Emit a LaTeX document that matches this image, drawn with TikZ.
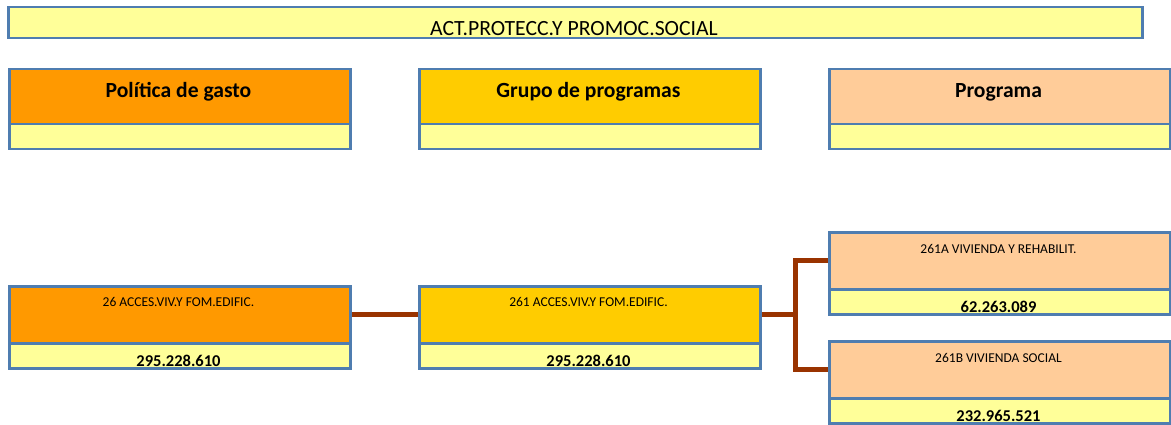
\documentclass[tikz,border=0pt]{standalone}
\usepackage{fontspec}
\setmainfont{Carlito}
\definecolor{bordc}{HTML}{4F7DB0}
\definecolor{orng}{HTML}{FF9900}
\definecolor{gold}{HTML}{FFCC00}
\definecolor{peach}{HTML}{FFCC99}
\definecolor{lyel}{HTML}{FFFF99}
\definecolor{connc}{HTML}{993300}
\begin{document}
\begin{tikzpicture}[x=1pt,y=-1pt,
  box/.style={draw=bordc, line width=2.5pt, inner sep=0pt, minimum width=341pt, anchor=north west},
  topbox/.style={box, minimum height=55pt},
  valbox/.style={box, fill=lyel, minimum height=25pt},
  head/.style={anchor=base, font=\fontsize{21.6}{23}\selectfont\bfseries},
  small/.style={anchor=base, font=\fontsize{13.5}{15}\selectfont},
  num/.style={anchor=base, font=\fontsize{16.5}{18}\selectfont\bfseries},
  conn/.style={draw=connc, line width=5pt}]
\useasboundingbox (0,0) rectangle (1171,425);
% title
\node[box, fill=lyel, minimum width=1134pt, minimum height=31pt] (title) at (7,6) {};
\node[anchor=base, font=\fontsize{21.7}{23}\selectfont] (titlet) at (574,36) {ACT.PROTECC.Y PROMOC.SOCIAL};
% headers
\node[topbox, fill=orng] (h1) at (8,68) {};
\node[valbox] (h1v) at (8,123) {};
\node[head] (h1t) at (178.5,98) {Política de gasto};
\node[topbox, fill=gold] (h2) at (418,68) {};
\node[valbox] (h2v) at (418,123) {};
\node[head] (h2t) at (588.5,98) {Grupo de programas};
\node[topbox, fill=peach] (h3) at (828,68) {};
\node[valbox] (h3v) at (828,123) {};
\node[head] (h3t) at (998.5,98) {Programa};
% politica
\node[topbox, fill=orng, minimum height=57pt] (p26) at (8,285) {};
\node[valbox] (p26v) at (8,342) {};
\node[small] (p26t) at (178.5,306.5) {26 ACCES.VIV.Y FOM.EDIFIC.};
\node[num] (p26n) at (178.5,366.5) {295.228.610};
% grupo
\node[topbox, fill=gold, minimum height=57pt] (g261) at (418,285) {};
\node[valbox] (g261v) at (418,342) {};
\node[small] (g261t) at (588.5,306.5) {261 ACCES.VIV.Y FOM.EDIFIC.};
\node[num] (g261n) at (588.5,366.5) {295.228.610};
% programa A
\node[topbox, fill=peach, minimum height=57pt] (pa) at (828,231) {};
\node[valbox] (pav) at (828,288) {};
\node[small] (pat) at (998.5,253) {261A VIVIENDA Y REHABILIT.};
\node[num] (pan) at (998.5,312) {62.263.089};
% programa B
\node[topbox, fill=peach, minimum height=57pt] (pb) at (828,340) {};
\node[valbox] (pbv) at (828,397) {};
\node[small] (pbt) at (998.5,362) {261B VIVIENDA SOCIAL};
\node[num] (pbn) at (998.5,421.5) {232.965.521};
% connectors
\draw[conn] (p26.east) -- (g261.west);
\draw[conn] (g261.east) -- ++(34,0) coordinate (j);
\draw[conn] (pa.west) -| (j) |- (pb.west);
\end{tikzpicture}
\end{document}
